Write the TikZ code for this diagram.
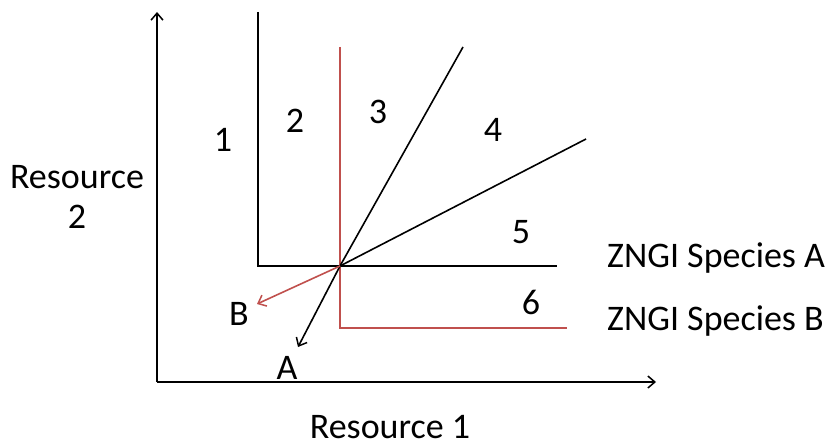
\documentclass[tikz,border=0pt]{standalone}
\usepackage{fontspec}
\setmainfont{Carlito}
\usetikzlibrary{arrows.meta}
\definecolor{zred}{RGB}{192,80,77}
\tikzset{
  ln/.style={line width=1.6pt, black},
  rl/.style={line width=1.6pt, zred},
  arr/.style={-{Straight Barb[length=7pt,width=12pt,line width=1.5pt]}},
  lbl/.style={font=\fontsize{36}{40}\selectfont, inner sep=0pt}
}
\begin{document}
\begin{tikzpicture}[x=1pt,y=-1pt]
\useasboundingbox (0,0) rectangle (829,441);
% axes
\coordinate (o) at (157,382);
\coordinate (ytip) at (157,12);
\coordinate (xtip) at (656,382);
\draw[ln,arr] (o) -- (ytip);
\draw[ln,arr] (o) -- (xtip);
% ZNGI A
\coordinate (p) at (340,266);
\coordinate (aTop) at (258,12);
\coordinate (aCorner) at (258,266);
\coordinate (aEnd) at (557,266);
\draw[ln] (aTop) -- (aCorner) -- (aEnd);
% ZNGI B
\coordinate (bTop) at (340,47);
\coordinate (bCorner) at (340,328);
\coordinate (bEnd) at (567,328);
\draw[rl] (bTop) -- (bCorner) -- (bEnd);
% consumption lines
\coordinate (l3) at (463,47);
\coordinate (l4) at (586,139);
\coordinate (atip) at (298,347);
\coordinate (btip) at (257,304);
\draw[ln] (p) -- (l3);
\draw[ln] (p) -- (l4);
\draw[ln,arr] (p) -- (atip);
\draw[rl,arr] (p) -- (btip);
% labels
\node[lbl] (n1) at (223,140) {1};
\node[lbl] (n2) at (295,121) {2};
\node[lbl] (n3) at (378,112) {3};
\node[lbl] (n4) at (493,130) {4};
\node[lbl] (n5) at (521,232) {5};
\node[lbl] (n6) at (531,302) {6};
\node[lbl] (lB) at (239,314) {B};
\node[lbl] (lA) at (287,368) {A};
\node[lbl, align=center] (r2) at (77,197) {Resource\\2};
\node[lbl] (r1) at (390,427) {Resource 1};
\node[lbl, anchor=west] (za) at (607,258) {ZNGI Species A};
\node[lbl, anchor=west] (zb) at (607,321) {ZNGI Species B};
\end{tikzpicture}
\end{document}
